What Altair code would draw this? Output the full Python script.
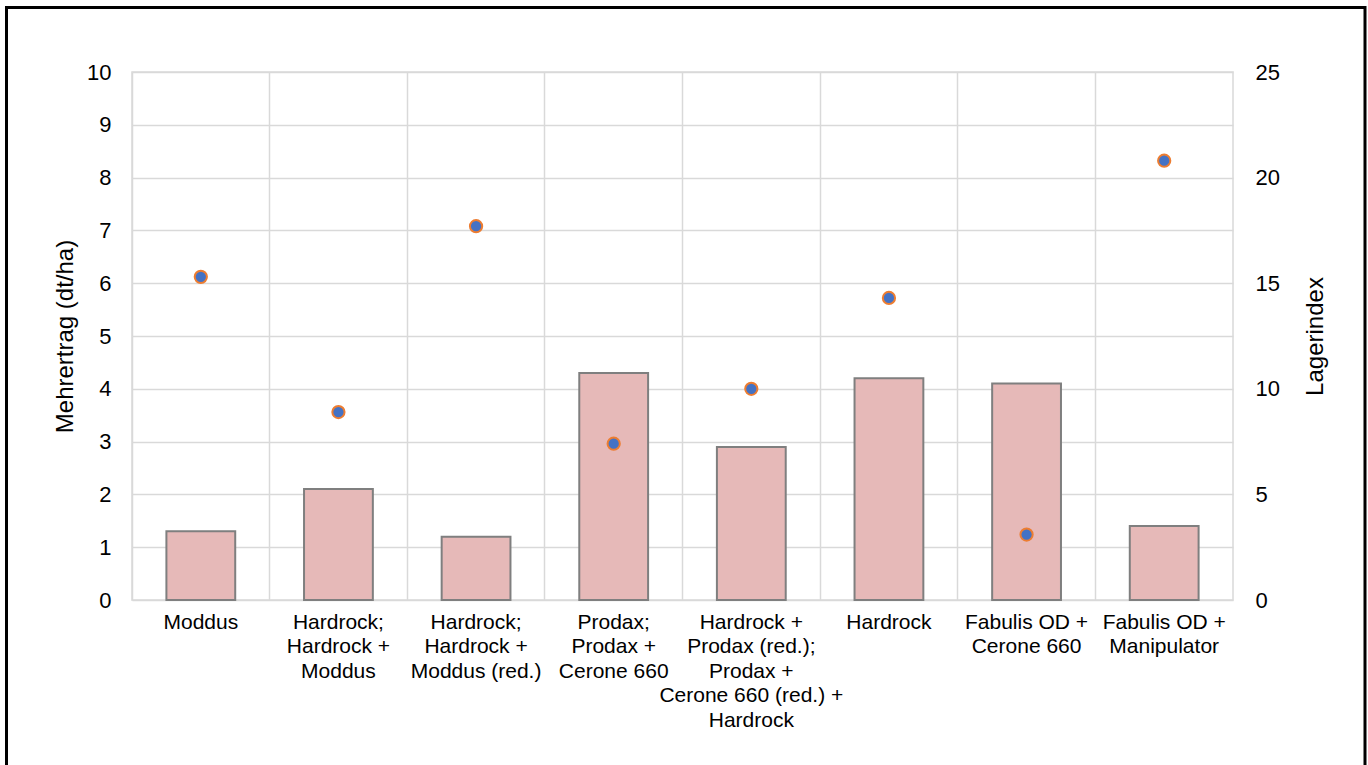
import altair as alt
import pandas as pd

# Treatments (line breaks marked with "|"), yield gain and lodging index
treatments = [
    "Moddus",
    "Hardrock;|Hardrock +|Moddus",
    "Hardrock;|Hardrock +|Moddus (red.)",
    "Prodax;|Prodax +|Cerone 660",
    "Hardrock +|Prodax (red.);|Prodax +|Cerone 660 (red.) +|Hardrock",
    "Hardrock",
    "Fabulis OD +|Cerone 660",
    "Fabulis OD +|Manipulator",
]
mehrertrag = [1.3, 2.1, 1.2, 4.3, 2.9, 4.2, 4.1, 1.4]
lagerindex = [15.3, 8.9, 17.7, 7.4, 10.0, 14.3, 3.1, 20.8]

left_ticks = list(range(0, 11))
right_ticks = [0, 5, 10, 15, 20, 25]

df = pd.DataFrame({"Behandlung": treatments, "Mehrertrag": mehrertrag, "Lagerindex": lagerindex})

FONT = "Liberation Sans"
GRID = "#d9d9d9"
W, H = 1101, 528

x_enc = alt.X(
    "Behandlung:N",
    sort=treatments,
    scale=alt.Scale(paddingInner=0, paddingOuter=0),
    axis=alt.Axis(
        title=None,
        labelExpr="split(datum.label, '|')",
        labelAngle=0,
        labelFontSize=21,
        labelLineHeight=24.5,
        labelPadding=11,
        labelLimit=400,
        labelColor="black",
        labelFont=FONT,
        ticks=False,
        domain=False,
        grid=True,
        gridColor=GRID,
        gridWidth=1.5,
        bandPosition=0,
    ),
)

bars = alt.Chart(df).mark_bar(
    width=alt.RelativeBandSize(0.5),
    color="#e6b9b8",
    stroke="#7f7f7f",
    strokeWidth=2,
).encode(
    x=x_enc,
    y=alt.Y(
        "Mehrertrag:Q",
        scale=alt.Scale(domain=[0, 10], nice=False),
        axis=alt.Axis(
            title="Mehrertrag (dt/ha)",
            values=left_ticks,
            labelFontSize=22,
            labelFont=FONT,
            labelColor="black",
            labelPadding=21,
            ticks=False,
            domain=False,
            grid=True,
            gridColor=GRID,
            gridWidth=1.5,
            titleFont=FONT,
            titleFontSize=24,
            titleFontWeight="normal",
            titleColor="black",
            titleX=-67,
            titleY=H / 2,
            titleAlign="center",
            titleBaseline="middle",
            titleAngle=-90,
        ),
    ),
)

points = alt.Chart(df).mark_point(
    filled=True,
    fill="#4472c4",
    stroke="#ed7d31",
    strokeWidth=2,
    size=150,
    opacity=1,
).encode(
    x=alt.X("Behandlung:N", sort=treatments),
    y=alt.Y(
        "Lagerindex:Q",
        scale=alt.Scale(domain=[0, 25], nice=False),
        axis=alt.Axis(
            title="Lagerindex",
            orient="right",
            values=right_ticks,
            labelFontSize=22,
            labelFont=FONT,
            labelColor="black",
            labelPadding=22,
            ticks=False,
            domain=False,
            grid=False,
            titleFont=FONT,
            titleFontSize=24,
            titleFontWeight="normal",
            titleColor="black",
            titleX=82,
            titleY=H / 2,
            titleAlign="center",
            titleBaseline="middle",
            titleAngle=-90,
        ),
    ),
)

# Black frame around the whole figure
frame = alt.Chart(pd.DataFrame({"k": [0]})).mark_rect(
    fill="transparent", stroke="black", strokeWidth=3
).encode(
    x=alt.value(-125.5),
    x2=alt.value(1233),
    y=alt.value(-64.5),
    y2=alt.value(800),
)

chart = (
    alt.layer(bars, points, frame)
    .resolve_scale(y="independent")
    .properties(
        width=W,
        height=H,
        autosize=alt.AutoSizeParams(type="none"),
        padding={"left": 132, "top": 72, "right": 135, "bottom": 165},
        background="white",
    )
    .configure_view(stroke=GRID, strokeWidth=1.5)
)

chart.save("out.html", embed_options={"renderer": "svg", "actions": False})
